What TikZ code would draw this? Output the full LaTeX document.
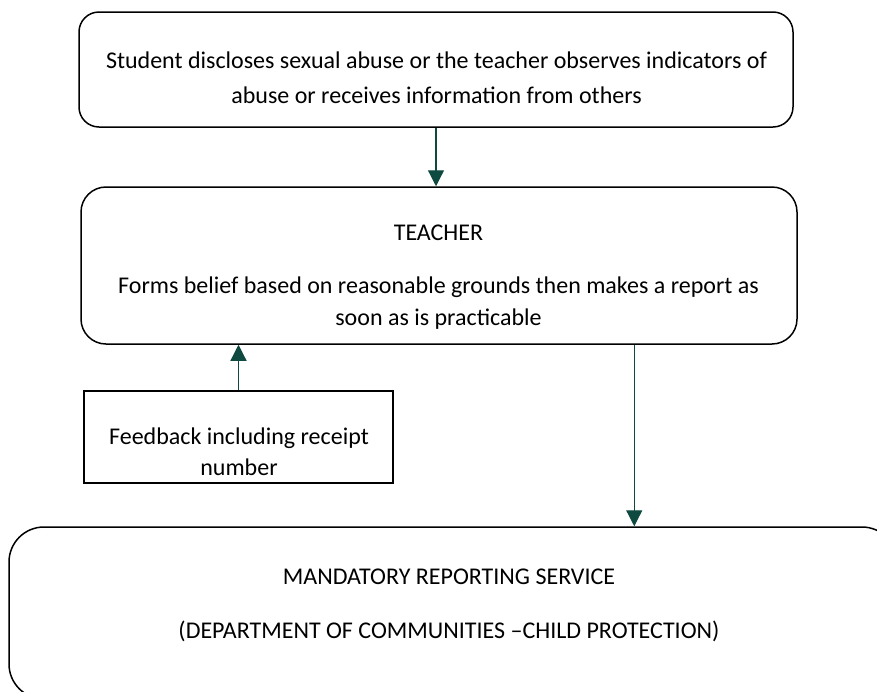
\documentclass[tikz,border=0pt]{standalone}
\usepackage{fontspec}
\setmainfont{Carlito}
\usetikzlibrary{arrows.meta,calc}
\definecolor{arrgreen}{HTML}{0E4A40}
\tikzset{
  box/.style={draw=black, line width=1.5pt, inner sep=0pt},
  txt/.style={anchor=base, inner sep=0pt, font=\fontsize{24}{28}\selectfont},
  arr/.style={draw=arrgreen, line width=1.2pt, -{Triangle[width=16pt,length=16pt]}, fill=arrgreen}
}
\begin{document}
\begin{tikzpicture}[x=1pt,y=-1pt]
\useasboundingbox (0,0) rectangle (877,691);
% boxes
\node[box, rounded corners=20pt, minimum width=714pt, minimum height=115pt] (top) at (436,69.5) {};
\node[box, rounded corners=25pt, minimum width=716pt, minimum height=157pt] (teacher) at (439,265.5) {};
\node[box, minimum width=309pt, minimum height=92pt] (feedback) at (238.5,437) {};
\node[box, rounded corners=35pt, minimum width=888pt, minimum height=172pt] (mrs) at (453,613) {};
% texts
\node[txt] (t1) at (436.5,68) {Student discloses sexual abuse or the teacher observes indicators of};
\node[txt] (t2) at (436.5,103) {abuse or receives information from others};
\node[txt] (t3) at (438.5,240) {TEACHER};
\node[txt] (t4) at (438.5,293) {Forms belief based on reasonable grounds then makes a report as};
\node[txt] (t5) at (438.5,325) {soon as is practicable};
\node[txt] (t6) at (239,444) {Feedback including receipt};
\node[txt] (t7) at (239,475) {number};
\node[txt] (t8) at (449,584) {MANDATORY REPORTING SERVICE};
\node[txt] (t9) at (449,638) {(DEPARTMENT OF COMMUNITIES –CHILD PROTECTION)};
% arrows
\draw[arr] (top.south) -- (top.south |- teacher.north);
\draw[arr] (feedback.north) -- (feedback.north |- teacher.south);
\coordinate (a3) at ([xshift=554pt]teacher.south west);
\draw[arr] (a3) -- (a3 |- mrs.north);
\end{tikzpicture}
\end{document}
